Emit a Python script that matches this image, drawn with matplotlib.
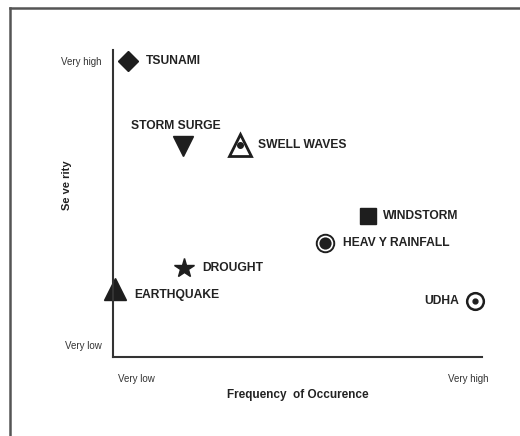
import matplotlib.pyplot as plt
from matplotlib.lines import Line2D

plt.rcParams['font.family'] = ['Liberation Sans', 'DejaVu Sans']

# hazards on a 0..10 frequency / severity scale
hazards = ['TSUNAMI', 'STORM SURGE', 'SWELL WAVES', 'WINDSTORM',
           'HEAVY RAINFALL', 'DROUGHT', 'EARTHQUAKE', 'UDHA']
frequency = [0.41, 1.90, 3.44, 6.91, 5.75, 1.92, 0.05, 9.81]
severity = [9.64, 6.87, 6.91, 4.59, 3.71, 2.90, 2.21, 1.82]

x_ticks = [0.62, 9.62]
x_tick_labels = ['Very low', 'Very high']
y_ticks = [0.39, 9.64]
y_tick_labels = ['Very low', 'Very high']

fig = plt.figure(figsize=(5.2, 4.36), dpi=100)
ax = fig.add_axes([113/520, 1 - 357/436, 369/520, 307/436])
ax.set_xlim(0, 10)
ax.set_ylim(0, 10)

for s in ['top', 'right']:
  ax.spines[s].set_visible(False)
for s in ['left', 'bottom']:
  ax.spines[s].set_color('#333333')
  ax.spines[s].set_linewidth(1.5)

ax.set_xticks(x_ticks)
ax.set_xticklabels(x_tick_labels, fontsize=7, color='#333333')
ax.set_yticks(y_ticks)
ax.set_yticklabels(y_tick_labels, fontsize=7, color='#333333')
ax.tick_params(length=0, pad=8)
ax.tick_params(axis='x', pad=12)
ax.set_xlabel('Frequency  of Occurence', fontsize=8.5, fontweight='bold', color='#222222', labelpad=4)
ax.set_ylabel('Se ve rity', fontsize=8, fontweight='bold', color='#222222')
ax.yaxis.set_label_coords(-0.11, 0.56)

k = '#1e1e1e'
f = dict(zip(hazards, zip(frequency, severity)))

def mark(name, **kw):
  x, y = f[name]
  ax.plot(x, y, linestyle='none', clip_on=False, **kw)

mark('TSUNAMI', marker='D', ms=10, color=k)
mark('STORM SURGE', marker='v', ms=15, color=k)
mark('SWELL WAVES', marker='^', ms=16, mfc='white', mec=k, mew=2)
mark('SWELL WAVES', marker='o', ms=4, color=k)
mark('WINDSTORM', marker='s', ms=11, color=k)
mark('HEAVY RAINFALL', marker='o', ms=13, color=k)
mark('HEAVY RAINFALL', marker='o', ms=10, mfc=k, mec='white', mew=1.2)
mark('DROUGHT', marker='*', ms=15, color=k)
mark('EARTHQUAKE', marker='^', ms=16, color=k)
mark('UDHA', marker='o', ms=12, mfc='white', mec=k, mew=1.8)
mark('UDHA', marker='o', ms=3.5, color=k)

txt = dict(fontsize=8.7, fontweight='bold', color='#222222', va='center')
offsets = {
  'TSUNAMI': (0.48, 0, 'left'),
  'STORM SURGE': (-0.2, 0.66, 'center'),
  'SWELL WAVES': (0.49, 0.0, 'left'),
  'WINDSTORM': (0.41, 0.0, 'left'),
  'HEAVY RAINFALL': (0.49, 0.0, 'left'),
  'DROUGHT': (0.49, 0.0, 'left'),
  'EARTHQUAKE': (0.52, -0.2, 'left'),
  'UDHA': (-0.43, 0.0, 'right'),
}
for name in hazards:
  dx, dy, ha = offsets[name]
  x, y = f[name]
  ax.text(x + dx, y + dy, name.replace('HEAVY', 'HEAV Y'), ha=ha, **txt)

# frame around the figure, cut off at right and bottom
fig.add_artist(Line2D([10/520, 1], [1 - 8/436, 1 - 8/436], color='#555555', lw=1.8))
fig.add_artist(Line2D([10/520, 10/520], [0, 1 - 8/436], color='#555555', lw=1.8))

fig.savefig('out.png', dpi=100)
